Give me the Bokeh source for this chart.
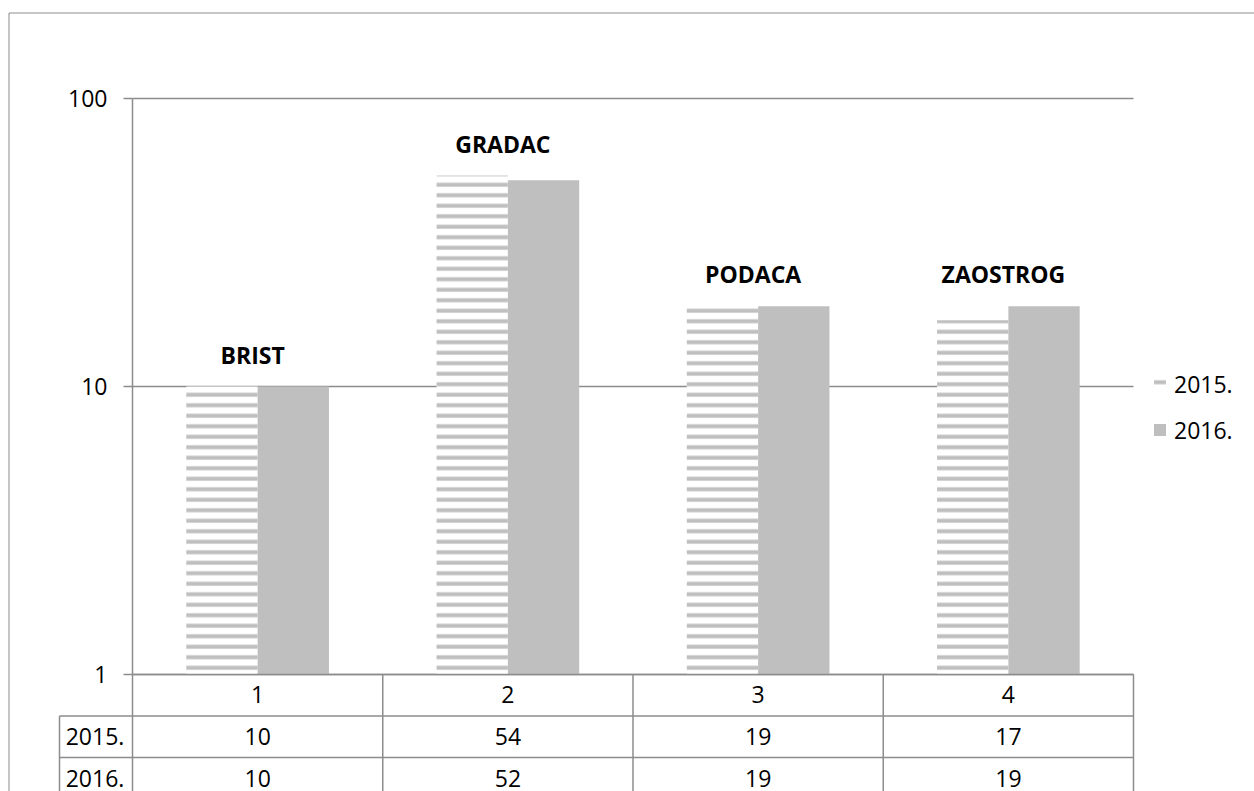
import numpy as np
from bokeh.plotting import figure
from bokeh.models import (Range1d, FixedTicker, ColumnDataSource, Legend, LegendItem,
                          NumeralTickFormatter, LogAxis, LinearAxis, LinearScale, Grid)
from bokeh.core.properties import value
from bokeh.transform import dodge
from bokeh.embed import file_html
from bokeh.resources import INLINE

# ---- data ----
categories = [1, 2, 3, 4]
places = ["BRIST", "GRADAC", "PODACA", "ZAOSTROG"]
series_names = ["2015.", "2016."]
values_2015 = [10, 54, 19, 17]
values_2016 = [10, 52, 19, 19]
y_ticks = [1, 10, 100]

# ---- style / layout (pixels) ----
FONT = "Open Sans"
LINE = "#8c8c8c"
BAR = "#bfbfbf"
FS = "23px"
W, H = 1254, 791
PL, PR, PT, PB = 132, 1133, 98, 674      # plot area edges
ROWHEAD = 73                              # width of the table row-header column
ROW = 41.5                                # table row height
BORDER_X, BORDER_Y = 8.5, 12.5            # outer chart border

ppu = (PR - PL) / len(categories)
x0 = categories[0] - 0.5
x1 = categories[-1] + 0.5
x_start = x0 - PL / ppu
x_end = x0 + (W - PL) / ppu
lo, hi = np.log10(y_ticks[0]), np.log10(y_ticks[-1])
decade = (PB - PT) / (hi - lo)
y_start = 10 ** (lo - (H - PB) / decade)
y_end = 10 ** (hi + PT / decade)

p = figure(width=W, height=H, x_range=Range1d(x_start, x_end), y_range=Range1d(y_start, y_end),
           y_axis_type="log", x_axis_location=None, y_axis_location=None,
           output_backend="svg", toolbar_location=None, min_border=0)
p.min_border_left = p.min_border_right = p.min_border_top = p.min_border_bottom = 0
p.outline_line_color = None
p.background_fill_color = "white"
p.border_fill_color = "white"
for g in p.select(type=Grid):
    g.visible = False
p.extra_y_ranges = {"table": Range1d(start=(H - PB) / ROW, end=-PB / ROW)}
p.extra_y_scales = {"table": LinearScale()}
t_bottom = (H - PB) / ROW

# gridlines across the plot area
p.segment(x0=[x0] * len(y_ticks), x1=[x1] * len(y_ticks), y0=y_ticks, y1=y_ticks,
          line_color=LINE, line_width=1.5)

src = ColumnDataSource(dict(
    cat=categories, place=places, v2015=values_2015, v2016=values_2016,
    top=[max(a, b) for a, b in zip(values_2015, values_2016)],
))
bw = 0.285
r2015 = p.vbar(x=dodge("cat", -bw / 2, range=p.x_range), top="v2015", bottom=y_ticks[0], width=bw,
               source=src, fill_color="white", line_color=None,
               hatch_pattern="horizontal_line", hatch_color=BAR, hatch_weight=4, hatch_scale=10.5)
r2016 = p.vbar(x=dodge("cat", bw / 2, range=p.x_range), top="v2016", bottom=y_ticks[0], width=bw,
               source=src, fill_color=BAR, line_color=None)

p.text(x="cat", y="top", text="place", source=src, text_font=value(FONT),
       text_font_style="bold", text_font_size=FS, text_align="center",
       text_baseline="middle", y_offset=-32, x_offset=-5, text_color="black")

# y axis (log) drawn at the left edge of the plot area
yax = LogAxis(fixed_location=x0, bounds=(y_ticks[0], y_ticks[-1]),
              ticker=FixedTicker(ticks=y_ticks), formatter=NumeralTickFormatter(format="0"))
yax.minor_tick_line_color = None
yax.major_tick_out = 9
yax.major_tick_in = 0
yax.major_tick_line_color = LINE
yax.major_tick_line_width = 1.5
yax.axis_line_color = LINE
yax.axis_line_width = 1.5
yax.major_label_standoff = 16
yax.major_label_text_font = FONT
yax.major_label_text_font_size = FS
yax.major_label_text_color = "black"
p.add_layout(yax, "left")

# x axis = header row of the data table
xax = LinearAxis(fixed_location=y_ticks[0], bounds=(x0, x1), ticker=FixedTicker(ticks=categories))
xax.major_tick_line_color = None
xax.minor_tick_line_color = None
xax.major_tick_out = 0
xax.major_tick_in = 0
xax.axis_line_color = LINE
xax.axis_line_width = 1.5
xax.major_label_standoff = 11
xax.major_label_text_font = FONT
xax.major_label_text_font_size = FS
xax.major_label_text_color = "black"
p.add_layout(xax, "below")

# data table grid
bounds = [c - 0.5 for c in categories] + [x1]
xh = x0 - ROWHEAD / ppu
p.segment(x0=bounds, x1=bounds, y0=[0] * len(bounds), y1=[t_bottom] * len(bounds),
          y_range_name="table", line_color=LINE, line_width=1.5)
p.segment(x0=[xh, xh], x1=[x1, x1], y0=[1, 2], y1=[1, 2],
          y_range_name="table", line_color=LINE, line_width=1.5)
p.segment(x0=[xh], x1=[xh], y0=[1], y1=[t_bottom],
          y_range_name="table", line_color=LINE, line_width=1.5)

p.text(x=categories + categories, y=[1.5] * len(categories) + [2.5] * len(categories),
       text=[str(v) for v in values_2015 + values_2016], y_range_name="table",
       text_align="center", text_baseline="middle", text_font=value(FONT),
       text_font_size=FS, text_color="black")
p.text(x=[x0 - (ROWHEAD / 2 + 1) / ppu] * 2, y=[1.5, 2.5], text=series_names,
       y_range_name="table", text_align="center", text_baseline="middle",
       text_font=value(FONT), text_font_size=FS, text_color="black")

# outer chart border
bx = x_start + BORDER_X / ppu
by = (BORDER_Y - PB) / ROW
p.segment(x0=[bx, bx], x1=[bx, x_end], y0=[by, by], y1=[t_bottom, by],
          y_range_name="table", line_color=LINE, line_width=1)

legend = Legend(items=[LegendItem(label=series_names[0], renderers=[r2015]),
                       LegendItem(label=series_names[1], renderers=[r2016])],
                location=(1152, 345.5), border_line_color=None, background_fill_alpha=0,
                padding=0, margin=0, glyph_width=15, glyph_height=15, label_standoff=7,
                spacing=14, label_height=30, label_text_font=FONT, label_text_font_size=FS,
                label_text_color="black")
p.add_layout(legend)

open("out.html", "w").write(file_html(p, INLINE))
